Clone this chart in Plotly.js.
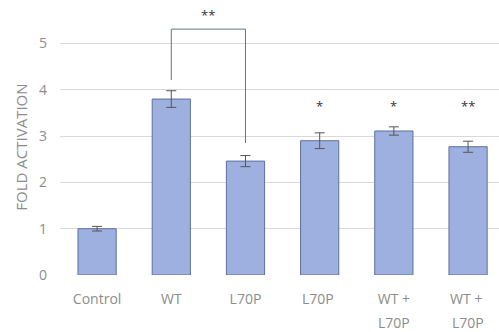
<!DOCTYPE html>
<html><head><meta charset="utf-8">
<script src="https://cdn.plot.ly/plotly-3.0.1.min.js"></script>
<style>html,body{margin:0;padding:0;background:#fff}#chart{width:499px;height:332px}</style>
</head><body><div id="chart"></div>
<script>
const categories = ["Control", "WT", "L70P", "L70P ", "WT +", "WT + "];
const secondLine = ["", "", "", "", "L70P", "L70P"];
const values = [1.0, 3.8, 2.46, 2.9, 3.11, 2.77];
const errors = [0.05, 0.18, 0.12, 0.17, 0.09, 0.12];
const stars = ["", "", "", "*", "*", "**"];
const starY = [0, 0, 0, 3.65, 3.64, 3.64];
const bracket = {from: 1, to: 2, top: 5.31, leftBottom: 4.21, rightBottom: 2.85, label: "**", labelY: 5.62};
const yTitle = "FOLD ACTIVATION";

const trace = {
  type: "bar", x: categories, y: values,
  marker: {color: "#9eb0e0", line: {color: "#5d6f9c", width: 1}},
  error_y: {type: "data", array: errors, visible: true, color: "#555", thickness: 1, width: 5},
  hoverinfo: "none"
};
const annotations = [];
categories.forEach((c, i) => {
  if (stars[i]) annotations.push({x: c, y: starY[i], text: stars[i], showarrow: false, xref: "x", yref: "y", font: {size: 13, color: "#333", family: "Open Sans"}});
  if (secondLine[i]) annotations.push({x: c, y: 0, yshift: -47, borderpad: 0, text: secondLine[i], showarrow: false, xref: "x", yref: "y", font: {size: 14, color: "#8c8c8c", family: "Open Sans"}});
});
annotations.push({x: (bracket.from + bracket.to) / 2, y: bracket.labelY, text: bracket.label, showarrow: false, xref: "x", yref: "y", font: {size: 13, color: "#333", family: "Open Sans"}});
annotations.push({x: (21 - 60) / 439, xref: "paper", xanchor: "center", y: 2.75, yref: "y", text: yTitle, textangle: -90, showarrow: false, borderpad: 0, font: {size: 15, color: "#8c8c8c", family: "Open Sans"}});
const bc = "#5b7590";
const shapes = [
  {type: "line", xref: "x", yref: "y", x0: bracket.from, x1: bracket.from, y0: bracket.leftBottom, y1: bracket.top, line: {color: bc, width: 1}},
  {type: "line", xref: "x", yref: "y", x0: bracket.from, x1: bracket.to, y0: bracket.top, y1: bracket.top, line: {color: bc, width: 1}},
  {type: "line", xref: "x", yref: "y", x0: bracket.to, x1: bracket.to, y0: bracket.top, y1: bracket.rightBottom, line: {color: bc, width: 1}}
];
const layout = {
  width: 499, height: 332,
  margin: {l: 60, r: 0, t: 2, b: 57},
  paper_bgcolor: "#fff", plot_bgcolor: "#fff",
  showlegend: false, bargap: 0.485,
  font: {family: "Open Sans", color: "#8c8c8c", size: 14},
  xaxis: {range: [-0.5, 5.417], showgrid: false, zeroline: false, showline: false, ticks: "", tickfont: {size: 14, color: "#8c8c8c"}, ticklabelstandoff: 14},
  yaxis: {range: [0, 5.896], tickvals: [0, 1, 2, 3, 4, 5], showgrid: true, gridcolor: "#d9d9d9", gridwidth: 1, zeroline: false, showline: false,
    tickfont: {size: 14, color: "#8c8c8c"}, ticklabelstandoff: 12},
  annotations: annotations, shapes: shapes
};
Plotly.newPlot("chart", [trace], layout, {staticPlot: true, displayModeBar: false});
</script></body></html>
